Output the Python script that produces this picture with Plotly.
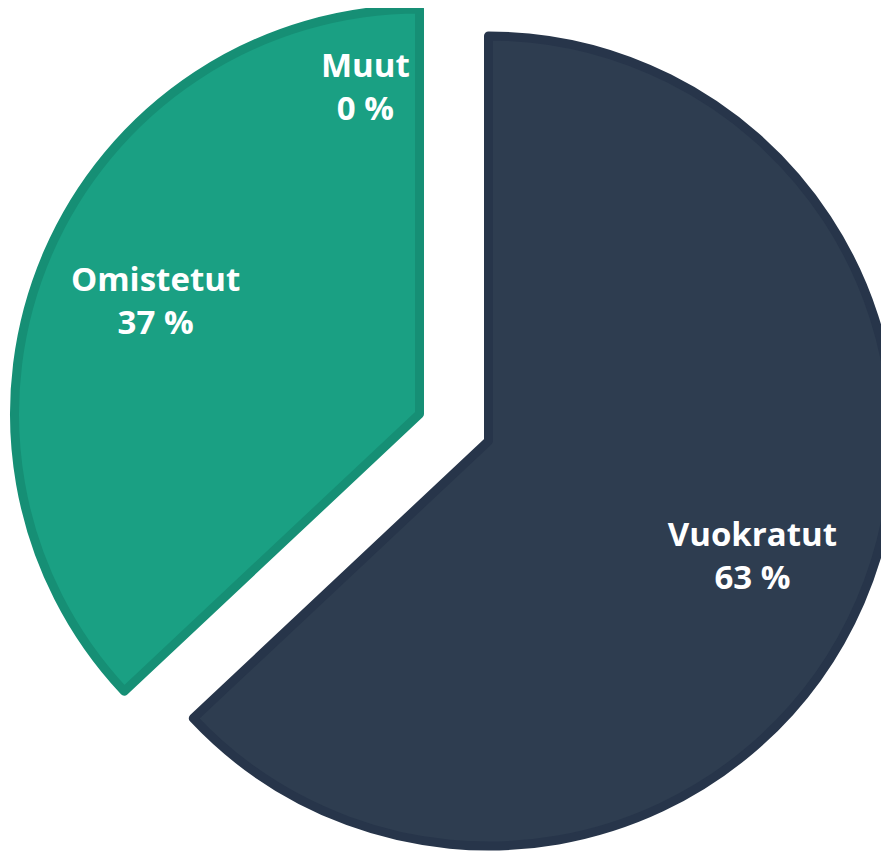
import plotly.graph_objects as go

# ---- Data ----
labels = ["Vuokratut", "Omistetut"]
values = [63, 37]
other_label = "Muut"
other_value = 0

# ---- Styles ----
fill_colors = ["#2E3D50", "#1AA083"]
line_colors = ["#27354A", "#168F75"]
LINE_W = 9
FONT = "Open Sans"
FONT_SIZE = 33
TEXT_HOLE = 0.42          # transparent ring trace used only to push labels outward

W, H = 889, 856
R = 405                   # slice radius in px
# exploded slice centres (px, figure coordinates)
centres = [(480.5, 433.0), (411.5, 406.0)]


def domain_for(cx, cy, r):
    return dict(x=[(cx - r) / W, (cx + r) / W],
                y=[1 - (cy + r) / H, 1 - (cy - r) / H])


fig = go.Figure()
transparent = "rgba(0,0,0,0)"

for i, (cx, cy) in enumerate(centres):
    dom = domain_for(cx, cy, R)
    cols = [fill_colors[j] if j == i else transparent for j in range(len(values))]
    lcols = [line_colors[j] if j == i else transparent for j in range(len(values))]
    # visible slice
    fig.add_trace(go.Pie(
        labels=labels, values=values, sort=False, direction="clockwise", rotation=0,
        marker=dict(colors=cols, line=dict(color=lcols, width=LINE_W)),
        textinfo="none", hoverinfo="skip", showlegend=False, domain=dom,
    ))
    # label for this slice
    txt = [f"<b>{labels[j]}<br>{values[j]} %</b>" if j == i else "" for j in range(len(values))]
    fig.add_trace(go.Pie(
        labels=labels, values=values, sort=False, direction="clockwise", rotation=0,
        hole=TEXT_HOLE,
        marker=dict(colors=[transparent] * len(values), line=dict(width=0)),
        text=txt, textinfo="text", textposition="inside",
        insidetextorientation="horizontal",
        textfont=dict(family=FONT, size=FONT_SIZE, color="white"),
        hoverinfo="skip", showlegend=False, domain=dom,
    ))

fig.add_annotation(
    x=0.4016, y=0.909, xref="paper", yref="paper",
    xanchor="center", yanchor="middle",
    text=f"<b>{other_label}<br>{other_value} %</b>",
    showarrow=False,
    font=dict(family=FONT, size=FONT_SIZE, color="white"),
)

fig.update_layout(
    width=W, height=H,
    margin=dict(l=0, r=0, t=0, b=0),
    paper_bgcolor="white",
    plot_bgcolor="white",
)

fig.write_html("out.html")
